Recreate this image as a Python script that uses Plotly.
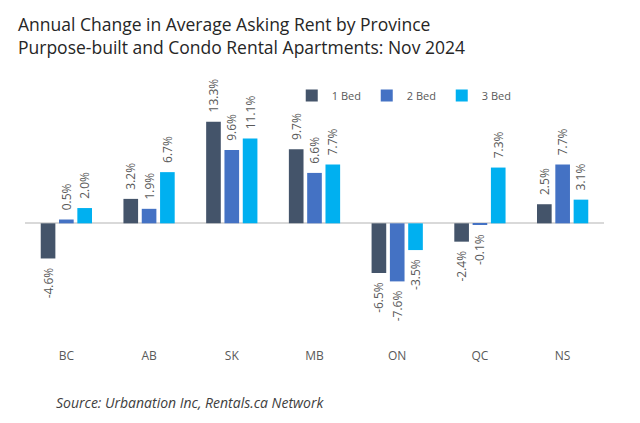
import plotly.graph_objects as go

provinces = ["BC", "AB", "SK", "MB", "ON", "QC", "NS"]
bed1 = [-4.6, 3.2, 13.3, 9.7, -6.5, -2.4, 2.5]
bed2 = [0.5, 1.9, 9.6, 6.6, -7.6, -0.1, 7.7]
bed3 = [2.0, 6.7, 11.1, 7.7, -3.5, 7.3, 3.1]
series_names = ["1 Bed", "2 Bed", "3 Bed"]
colors = ["#44546A", "#4472C4", "#00B0F0"]
title_lines = ["Annual Change in Average Asking Rent by Province",
               "Purpose-built and Condo Rental Apartments: Nov 2024"]
source_text = "Source: Urbanation Inc, Rentals.ca Network"

FONT = "Open Sans"
PAD = "\u00a0\u00a0"


def label(v):
    s = f"{v:.1f}%"
    return PAD + s if v >= 0 else s + PAD


fig = go.Figure()
for name, vals, col in zip(series_names, [bed1, bed2, bed3], colors):
    fig.add_trace(go.Bar(
        x=provinces, y=vals, name=name,
        marker=dict(color=col, line=dict(width=0)),
        text=[label(v) for v in vals],
        textposition="outside", textangle=-90, constraintext="none",
        textfont=dict(size=12, color="#595959", family=FONT),
        cliponaxis=False,
    ))

fig.update_layout(
    width=640, height=423,
    margin=dict(l=25, r=36, t=80, b=83),
    paper_bgcolor="white", plot_bgcolor="white",
    barmode="group", bargap=0.336, bargroupgap=0.2,
    font=dict(family=FONT, color="#595959"),
    legend=dict(
        orientation="h", x=0.655, xanchor="center", y=0.94, yanchor="middle",
        font=dict(size=11, color="#595959", family=FONT), itemwidth=30,
        entrywidth=30, bgcolor="rgba(0,0,0,0)",
    ),
    showlegend=True,
)
fig.update_xaxes(
    showgrid=False, showline=False, zeroline=False,
    ticks="outside", ticklen=5, tickcolor="rgba(0,0,0,0)",
    tickfont=dict(size=12, color="#595959", family=FONT),
)
fig.update_yaxes(
    range=[-15.27, 18.76], showticklabels=False, showgrid=False,
    zeroline=True, zerolinecolor="#D9D9D9", zerolinewidth=1.5,
)
fig.add_annotation(
    text="<br>".join(title_lines), xref="paper", yref="paper", x=-0.016, y=1.171,
    xanchor="left", yanchor="middle", align="left", showarrow=False,
    font=dict(size=17.5, color="#262626", family=FONT),
)
fig.add_annotation(
    text=f"<i>{source_text}</i>",
    xref="paper", yref="paper", x=0.05, y=-0.241,
    xanchor="left", yanchor="middle", showarrow=False,
    font=dict(size=14, color="#404040", family=FONT),
)

fig.write_html("out.html", config={"displayModeBar": False},
               post_script="document.body.style.margin='0';")
